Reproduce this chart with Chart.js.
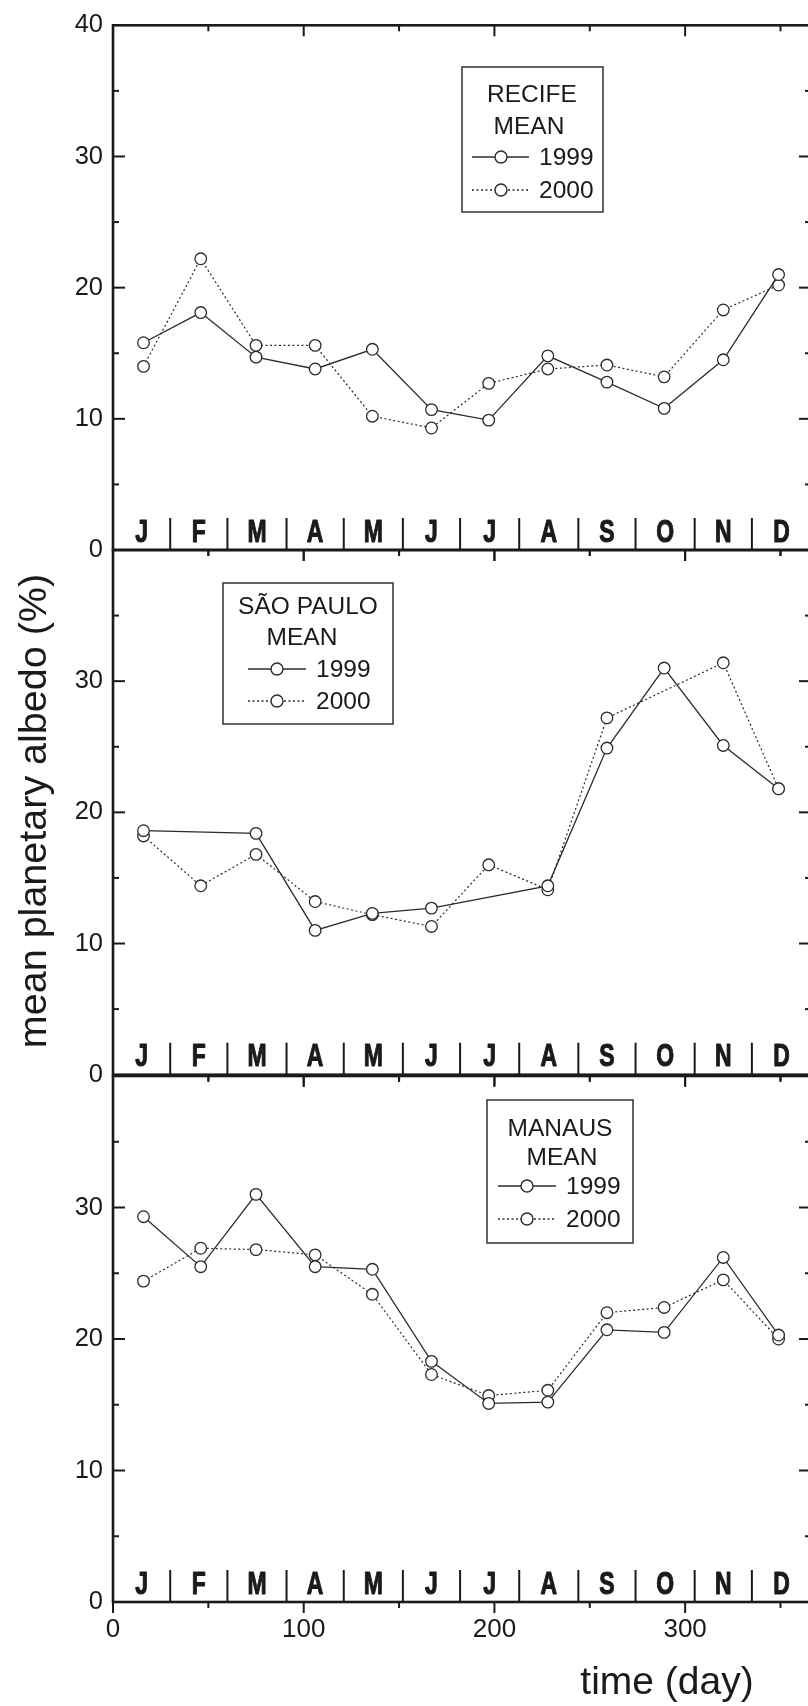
<!DOCTYPE html>
<html><head><meta charset="utf-8">
<script src="https://cdn.jsdelivr.net/npm/chart.js@4.4.1/dist/chart.umd.min.js"></script>
<style>
html,body{margin:0;padding:0;background:#fff;overflow:hidden}
#wrap{position:relative;width:808px;height:1706px;overflow:hidden;background:#fff}
canvas{position:absolute;left:0}
</style></head><body>
<div id="wrap">
<canvas id="c1"></canvas><canvas id="c2"></canvas><canvas id="c3"></canvas>
</div>
<script>
// ---------- data ----------
const days = [16, 46, 75, 106, 136, 167, 197, 228, 259, 289, 320, 349];
const monthLetters = ['J','F','M','A','M','J','J','A','S','O','N','D'];
const monthBounds = [30, 60, 91, 121, 152, 182, 213, 244, 274, 305, 335];
const xTickLabels = [0, 100, 200, 300];
const yTickLabelsTop = [0, 10, 20, 30, 40];
const yTickLabelsLower = [0, 10, 20, 30];
const seriesNames = ['1999', '2000'];

const recife1999 = [15.8, 18.1, 14.7, 13.8, 15.3, 10.7, 9.9, 14.8, 12.8, 10.8, 14.5, 21.0];
const recife2000 = [14.0, 22.2, 15.6, 15.6, 10.2, 9.3, 12.7, 13.8, 14.1, 13.2, 18.3, 20.2];
const saoPaulo1999 = [18.6, null, 18.4, 11.0, 12.3, 12.7, null, 14.4, 24.9, 31.0, 25.1, 21.8];
const saoPaulo2000 = [18.2, 14.4, 16.8, 13.2, 12.2, 11.3, 16.0, 14.1, 27.2, null, 31.4, 21.8];
const manaus1999 = [29.3, 25.5, 31.0, 25.5, 25.3, 18.3, 15.1, 15.2, 20.7, 20.5, 26.2, 20.3];
const manaus2000 = [24.4, 26.9, 26.8, 26.4, 23.4, 17.3, 15.7, 16.1, 22.0, 22.4, 24.5, 20.0];

// ---------- layout ----------
const FONT = '"Liberation Sans", Arial, Helvetica, sans-serif';
const PLOT_LEFT = 113, PLOT_RIGHT = 811, CANVAS_W = 820;
const INK = '#1a1a1a', LINE = '#2b2b2b';

const panels = [
  { id:'c1', top:0, height:580, padTop:24, padBottom:30, showX:false,
    yLabels: yTickLabelsTop, s1999: recife1999, s2000: recife2000,
    legend:{ x0:462, y0:67, x1:603, y1:212, title:'RECIFE', titleX:532, titleY:102,
             meanX:529, meanY:134, r1:165, r2:198, lx0:472, lx1:529, cx:501, tx:539 } },
  { id:'c2', top:520, height:580, padTop:30, padBottom:24, showX:false, yTitle:true,
    yLabels: yTickLabelsLower, s1999: saoPaulo1999, s2000: saoPaulo2000,
    legend:{ x0:223, y0:583, x1:393, y1:724, title:'SÃO PAULO', titleX:308, titleY:614,
             meanX:302, meanY:645, r1:677, r2:709, lx0:248, lx1:306, cx:277, tx:316 } },
  { id:'c3', top:1046, height:660, padTop:30, padBottom:0, showX:true, xHeight:104,
    yLabels: yTickLabelsLower, s1999: manaus1999, s2000: manaus2000,
    legend:{ x0:487, y0:1100, x1:633, y1:1243, title:'MANAUS', titleX:560, titleY:1136,
             meanX:562, meanY:1165, r1:1194, r2:1227, lx0:498, lx1:556, cx:527, tx:566 } }
];

function seg(ctx, x0, y0, x1, y1){ ctx.beginPath(); ctx.moveTo(x0,y0); ctx.lineTo(x1,y1); ctx.stroke(); }

function drawLegend(ctx, L, off){
  ctx.save();
  ctx.strokeStyle = '#333'; ctx.lineWidth = 1.5;
  ctx.strokeRect(L.x0, L.y0-off, L.x1-L.x0, L.y1-L.y0);
  ctx.fillStyle = INK; ctx.font = '24.5px ' + FONT;
  ctx.textAlign = 'center'; ctx.textBaseline = 'alphabetic';
  ctx.fillText(L.title, L.titleX, L.titleY-off);
  ctx.fillText('MEAN', L.meanX, L.meanY-off);
  const rows = [{label:seriesNames[0], dash:[], y:L.r1}, {label:seriesNames[1], dash:[2,2.5], y:L.r2}];
  rows.forEach(r => {
    const yy = r.y - 8 - off;
    ctx.strokeStyle = LINE; ctx.lineWidth = 1.4;
    ctx.setLineDash(r.dash);
    seg(ctx, L.lx0, yy, L.lx1, yy);
    ctx.setLineDash([]);
    ctx.beginPath(); ctx.arc(L.cx, yy, 6, 0, Math.PI*2);
    ctx.fillStyle = '#fff'; ctx.fill(); ctx.stroke();
    ctx.fillStyle = INK; ctx.textAlign = 'left';
    ctx.fillText(r.label, L.tx, r.y - off);
  });
  ctx.restore();
}

function decor(p){
  return {
    id:'decor'+p.id,
    afterDraw(chart){
      const ctx = chart.ctx, xs = chart.scales.x, ys = chart.scales.y, a = chart.chartArea;
      ctx.save();
      ctx.strokeStyle = INK; ctx.lineCap = 'butt';
      // frame
      ctx.lineWidth = 2.6;
      ctx.strokeRect(a.left, a.top, a.right-a.left, a.bottom-a.top);
      // x ticks (pointing down on top and bottom edges)
      ctx.lineWidth = 2;
      for (let v = 0; v <= 350; v += 50){
        const px = xs.getPixelForValue(v);
        const len = v % 100 === 0 ? 11 : 6;
        if (v > 0) seg(ctx, px, a.top, px, a.top + len);
        seg(ctx, px, a.bottom, px, a.bottom + len);
      }
      // y ticks (inward on both sides)
      for (let v = 5; v <= 35; v += 5){
        const py = ys.getPixelForValue(v);
        const len = v % 10 === 0 ? 12 : 6;
        seg(ctx, a.left, py, a.left + len, py);
        seg(ctx, a.right, py, a.right - len, py);
      }
      // month separators
      monthBounds.forEach(b => {
        const px = xs.getPixelForValue(b);
        seg(ctx, px, a.bottom, px, a.bottom - 32);
      });
      // month letters (bold condensed)
      const edges = [0, ...monthBounds, 366];
      ctx.fillStyle = INK; ctx.strokeStyle = INK; ctx.lineWidth = 1.1; ctx.lineJoin = 'round';
      ctx.textAlign = 'center'; ctx.textBaseline = 'alphabetic';
      ctx.font = 'bold 31px ' + FONT;
      monthLetters.forEach((m, i) => {
        const cx = xs.getPixelForValue((edges[i] + edges[i+1]) / 2);
        ctx.save();
        ctx.translate(cx, a.bottom - 8.5);
        ctx.scale(0.74, 1);
        ctx.fillText(m, 0, 0);
        ctx.strokeText(m, 0, 0);
        ctx.restore();
      });
      ctx.restore();
      drawLegend(ctx, p.legend, p.top);
      if (p.yTitle){
        ctx.save();
        ctx.fillStyle = INK; ctx.font = '39.5px ' + FONT;
        ctx.textAlign = 'center'; ctx.textBaseline = 'alphabetic';
        ctx.translate(46, 811 - p.top);
        ctx.rotate(-Math.PI/2);
        ctx.fillText('mean planetary albedo (%)', 0, 0);
        ctx.restore();
      }
      if (p.showX){
        ctx.save();
        ctx.fillStyle = INK; ctx.font = '39px ' + FONT;
        ctx.textAlign = 'center'; ctx.textBaseline = 'alphabetic';
        ctx.fillText('time (day)', 667, 1694 - p.top);
        ctx.restore();
      }
    }
  };
}

function makeChart(p){
  const cv = document.getElementById(p.id);
  cv.width = CANVAS_W; cv.height = p.height;
  cv.style.width = CANVAS_W + 'px'; cv.style.height = p.height + 'px';
  cv.style.top = p.top + 'px';
  const mk = (vals, dash) => ({
    data: days.map((d, i) => ({x: d, y: vals[i]})),
    borderColor: LINE, borderWidth: dash.length ? 1.2 : 1.3, borderDash: dash,
    pointRadius: 5.8, pointHoverRadius: 5.8, pointBackgroundColor: '#fff',
    pointBorderColor: LINE, pointBorderWidth: 1.3,
    spanGaps: true, tension: 0, fill: false
  });
  return new Chart(cv, {
    type: 'line',
    data: { datasets: [
      Object.assign({label: seriesNames[0]}, mk(p.s1999, [])),
      Object.assign({label: seriesNames[1]}, mk(p.s2000, [2, 2.5]))
    ]},
    options: {
      responsive: false, animation: false, devicePixelRatio: 1,
      layout: { padding: { top: p.padTop, bottom: p.padBottom, left: 0, right: CANVAS_W - PLOT_RIGHT } },
      plugins: { legend: { display: false }, tooltip: { enabled: false } },
      events: [],
      scales: {
        x: {
          type: 'linear', min: 0, max: 366, display: p.showX,
          grid: { display: false, drawTicks: false }, border: { display: false },
          ticks: { stepSize: 100, includeBounds: false, autoSkip: false, maxRotation: 0,
                   padding: 12, color: INK, font: { family: FONT, size: 26 },
                   callback: v => xTickLabels.includes(v) ? String(v) : '' },
          afterFit: s => { if (p.showX) s.height = p.xHeight; }
        },
        y: {
          type: 'linear', min: 0, max: 40,
          grid: { display: false, drawTicks: false }, border: { display: false },
          ticks: { stepSize: 10, padding: 10, color: INK, font: { family: FONT, size: 25.5 },
                   callback: v => p.yLabels.includes(v) ? String(v) : '' },
          afterFit: s => { s.width = PLOT_LEFT; }
        }
      }
    },
    plugins: [decor(p)]
  });
}
panels.forEach(makeChart);
</script>
</body></html>
